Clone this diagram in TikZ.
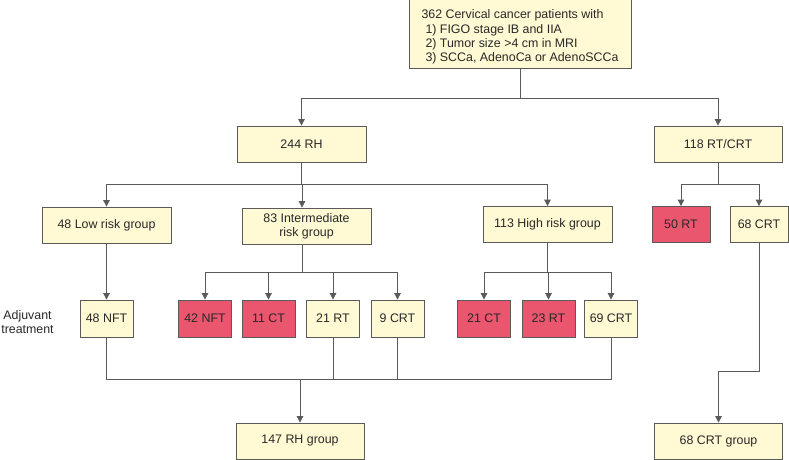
\documentclass[tikz,border=0pt]{standalone}
\usepackage{fontspec}
\setmainfont{Liberation Sans}
\usetikzlibrary{arrows.meta}
\definecolor{boxfill}{RGB}{255,250,212}
\definecolor{redfill}{RGB}{233,86,110}
\definecolor{linegray}{RGB}{90,90,90}
\definecolor{txtgray}{RGB}{40,40,40}

\begin{document}
\begin{tikzpicture}[x=1pt, y=-1pt, font=\fontsize{12.4}{14.4}\selectfont, text=txtgray,
                    every node/.style={draw=linegray, fill=boxfill, line width=0.8pt,
                    inner sep=2pt, minimum height=36pt},
                    redbox/.style={fill=redfill},
                    link/.style={draw=linegray, line width=0.8pt},
                    >={Triangle[width=6.5pt, length=6.5pt]}]
  \useasboundingbox (0,0) rectangle (789,460);

  % Patients
  \node[minimum width=222pt, minimum height=70pt, align=left] (pat) at (520,33) {\rule{0pt}{17pt}362 Cervical cancer patients with\\
    \hspace*{4pt}1) FIGO stage IB and IIA\\
    \hspace*{4pt}2) Tumor size >4 cm in MRI\\
    \hspace*{4pt}3) SCCa, AdenoCa or AdenoSCCa};

  % Primary treatment
  \node[minimum width=129pt] (rh) at (301.5,144) {244 RH};
  \node[minimum width=128pt] (rtcrt) at (718,144) {118 RT/CRT};
  \draw[link, ->] (pat.south) -- ++(0,30) -| (rh.north);
  \draw[link, ->] (pat.south) -- ++(0,30) -| (rtcrt.north);

  % Risk groups
  \node[minimum width=129pt] (low) at (106.5,225) {48 Low risk group};
  \node[minimum width=129pt, align=center] (mid) at (306.5,226) {83 Intermediate\\risk group};
  \node[minimum width=129pt] (high) at (547.5,224.5) {113 High risk group};
  \node[redbox, minimum width=58pt] (rt50) at (681,224.5) {50 RT};
  \node[minimum width=58pt] (crt68) at (759,224.5) {68 CRT};
  \draw[link, ->] (rh.south) -- ++(0,22) -| (low.north);
  \draw[link, ->] (rh.south) -- ++(0,22) -| ([xshift=-4.5pt]mid.north);
  \draw[link, ->] (rh.south) -- ++(0,22) -| (high.north);
  \draw[link, ->] (rtcrt.south) -- ++(0,22) -| (rt50.north);
  \draw[link, ->] (rtcrt.south) -- ++(0,22) -| (crt68.north);

  % Adjuvant treatment
  \node[draw=none, fill=none, align=center, inner sep=0pt] (adj) at (27.5,322) {Adjuvant\\treatment};
  \begin{scope}[every node/.append style={minimum width=53pt, minimum height=37pt}]
  \node (nft48) at (106.5,318.5) {48 NFT};
  \node[redbox] (nft42) at (205,318.5) {42 NFT};
  \node[redbox] (ct11) at (268.5,318.5) {11 CT};
  \node (rt21) at (333,318.5) {21 RT};
  \node (crt9) at (397.5,318.5) {9 CRT};
  \node[redbox] (ct21) at (484,318.5) {21 CT};
  \node[redbox] (rt23) at (548.5,318.5) {23 RT};
  \node (crt69) at (611,318.5) {69 CRT};
  \end{scope}
  \draw[link, ->] (low.south) -- (nft48.north);
  \foreach \arm in {nft42, ct11, rt21, crt9}
    \draw[link, ->] ([xshift=-4.5pt]mid.south) -- ++(0,28) -| (\arm.north);
  \foreach \arm in {ct21, rt23, crt69}
    \draw[link, ->] (high.south) -- ++(0,29) -| (\arm.north);

  % Final groups
  \node[minimum width=128pt] (rhg) at (300,441) {147 RH group};
  \node[minimum width=128pt] (crtg) at (718.5,441) {68 CRT group};
  \draw[link] (nft48.south) -- ++(0,42) -| (crt69.south);
  \draw[link] (rt21.south) -- ++(0,42);
  \draw[link] (crt9.south) -- ++(0,42);
  \draw[link, <-] (rhg.north) -- ++(0,-44);
  \draw[link, ->] (crt68.south) -- ++(0,128) -| (crtg.north);
\end{tikzpicture}
\end{document}
